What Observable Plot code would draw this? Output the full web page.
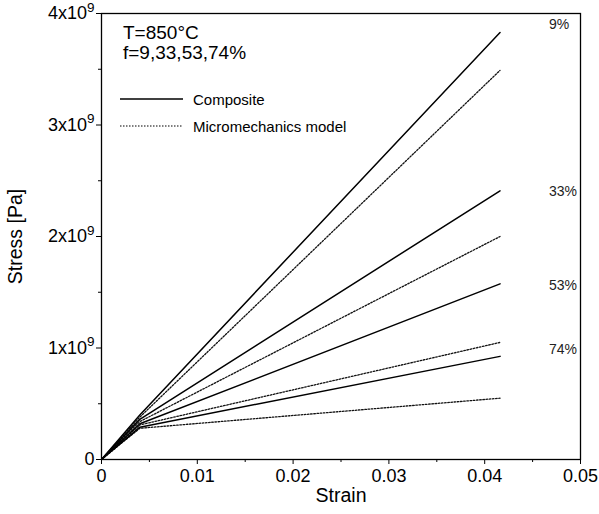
<!DOCTYPE html>
<html><head><meta charset="utf-8">
<script src="https://cdn.jsdelivr.net/npm/d3@7"></script>
<script src="https://cdn.jsdelivr.net/npm/@observablehq/plot@0.6"></script>
<style>
body{margin:0;background:#fff;font-family:"Liberation Sans",Arial,sans-serif;}
#wrap{position:relative;width:599px;height:514px;}
#wrap svg.overlay{position:absolute;left:0;top:0;pointer-events:none;}
</style></head><body><div id="wrap"></div>
<script>
// ---- data ----
const fractions = ["9%", "33%", "53%", "74%"];
const strainPoints = [0, 0.004, 0.0416];
const compositeStress = [
  [0, 0.40e9, 3.83e9],
  [0, 0.36e9, 2.41e9],
  [0, 0.32e9, 1.575e9],
  [0, 0.29e9, 0.925e9]
];
const modelStress = [
  [0, 0.38e9, 3.49e9],
  [0, 0.34e9, 2.00e9],
  [0, 0.31e9, 1.05e9],
  [0, 0.28e9, 0.55e9]
];
const labelStrain = 0.0467;
const labelStress = [3.90e9, 2.40e9, 1.56e9, 0.99e9];
const xTicks = [0, 0.01, 0.02, 0.03, 0.04, 0.05];
const xTickLabels = ["0", "0.01", "0.02", "0.03", "0.04", "0.05"];
const xMinorTicks = [0.005, 0.015, 0.025, 0.035, 0.045];
const yTicks = [0, 1e9, 2e9, 3e9, 4e9];
const yMinorTicks = [0.5e9, 1.5e9, 2.5e9, 3.5e9];
const yTickLabels = ["0", "1x10^9", "2x10^9", "3x10^9", "4x10^9"];
const legendTitle = ["T=850°C", "f=9,33,53,74%"];
const legendEntries = ["Composite", "Micromechanics model"];

// ---- tables ----
const toRows = (arr) => arr.flatMap((s, i) =>
  s.map((v, j) => ({strain: strainPoints[j], stress: v, series: fractions[i]})));
const compRows = toRows(compositeStress);
const modelRows = toRows(modelStress);
const labelRows = fractions.map((f, i) => ({f, x: labelStrain, y: labelStress[i]}));
const xLabelRows = xTicks.map((v, i) => ({v, t: xTickLabels[i]}));
const yLabelRows = yTicks.map((v, i) => ({v, t: yTickLabels[i]}));

const font = "Liberation Sans, Arial, sans-serif";
const chart = Plot.plot({
  width: 599, height: 514,
  marginLeft: 101, marginRight: 19, marginTop: 13, marginBottom: 55,
  style: {fontFamily: font, background: "#fff", color: "#000"},
  x: {domain: [0, 0.05]},
  y: {domain: [0, 4e9]},
  marks: [
    Plot.frame({stroke: "#000", strokeWidth: 1.3}),
    Plot.axisX({ticks: xTicks, tickSize: 5, tickFormat: () => "", label: null}),
    Plot.axisX({ticks: xMinorTicks, tickSize: 3, tickFormat: () => "", label: null}),
    Plot.axisY({ticks: yTicks, tickSize: 5, tickFormat: () => "", label: null}),
    Plot.axisY({ticks: yMinorTicks, tickSize: 3, tickFormat: () => "", label: null}),
    Plot.text(xLabelRows, {x: "v", text: "t", frameAnchor: "bottom", lineAnchor: "top",
      dy: 10, fontSize: 18, fill: "#000"}),
    Plot.text(yLabelRows, {y: "v", text: "t", frameAnchor: "left", textAnchor: "end",
      dx: -7, fontSize: 18, fill: "#000"}),
    Plot.text(["Strain"], {frameAnchor: "bottom", lineAnchor: "middle", textAnchor: "middle",
      dy: 36, fontSize: 19.5, fill: "#000"}),
    Plot.text(["Stress [Pa]"], {frameAnchor: "left", textAnchor: "middle", lineAnchor: "middle",
      dx: -86, rotate: -90, fontSize: 19.5, fill: "#000"}),
    Plot.line(modelRows, {x: "strain", y: "stress", z: "series", stroke: "#111",
      strokeWidth: 1.3, strokeDasharray: "1.6,1.6"}),
    Plot.line(compRows, {x: "strain", y: "stress", z: "series", stroke: "#000", strokeWidth: 1.5}),
    Plot.text(labelRows, {x: "x", y: "y", text: "f", textAnchor: "start", fontSize: 14,
      fill: "#222", letterSpacing: "0.5px"})
  ]
});

// superscripts on y tick labels
d3.select(chart).selectAll("text").each(function() {
  const t = this.textContent;
  if (/\^/.test(t)) {
    const [base, exp] = t.split("^");
    const sel = d3.select(this);
    sel.text(base);
    sel.append("tspan").attr("dy", "-0.55em").attr("font-size", "0.75em").text(exp);
  }
});

const wrap = document.getElementById("wrap");
wrap.appendChild(chart);

// legend overlay
const ov = d3.select(wrap).append("svg").attr("class", "overlay")
  .attr("width", 599).attr("height", 514).style("font-family", font);
ov.selectAll("text.title").data(legendTitle).join("text")
  .attr("x", 123).attr("y", (d, i) => 39 + i * 20)
  .attr("font-size", 19).attr("fill", "#000").text(d => d);
ov.selectAll("line.entry").data(legendEntries).join("line")
  .attr("x1", 120).attr("x2", 183)
  .attr("y1", (d, i) => 99 + i * 27).attr("y2", (d, i) => 99 + i * 27)
  .attr("stroke", "#000").attr("stroke-width", (d, i) => i ? 1.2 : 1.5)
  .attr("stroke-dasharray", (d, i) => i ? "1.5,1.5" : null);
ov.selectAll("text.entry").data(legendEntries).join("text")
  .attr("x", 193).attr("y", (d, i) => 105 + i * 27)
  .attr("font-size", 15).attr("fill", "#000").text(d => d);
</script>
</body></html>
